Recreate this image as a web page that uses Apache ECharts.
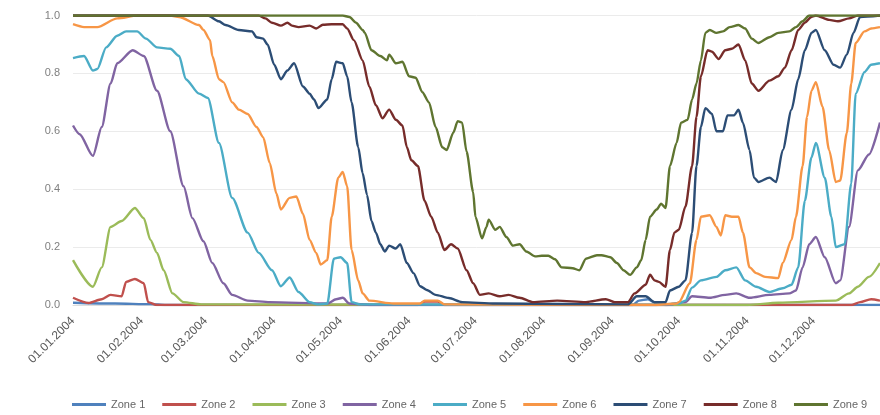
<!DOCTYPE html>
<html>
<head>
<meta charset="utf-8">
<script src="https://cdn.jsdelivr.net/npm/echarts@6/dist/echarts.min.js"></script>
<style>
  html, body { margin: 0; padding: 0; background: #ffffff; }
  #chart { width: 880px; height: 415px; }
</style>
</head>
<body>
<div id="chart"></div>
<script>
// Daily share per zone through 2004, sampled as [MM-DD, value]
const zone1 = [['01-01',0.008],['01-20',0.005],['02-05',0.003],['02-12',0],['09-10',0],['09-13',0.015],['09-17',0.02],['09-21',0.005],['09-25',0],['12-31',0]];
const zone2 = [['01-01',0.025],['01-08',0.007],['01-14',0.02],['01-18',0.035],['01-23',0.03],['01-25',0.08],['01-29',0.09],['02-02',0.075],['02-04',0.01],['02-08',0],
  ['06-05',0],['06-08',0.012],['06-14',0.012],['06-17',0],['12-18',0],['12-22',0.01],['12-27',0.02],['12-31',0.015]];
const zone3 = [['01-01',0.155],['01-10',0.063],['01-14',0.13],['01-18',0.27],['01-23',0.29],['01-29',0.335],['02-02',0.30],['02-05',0.225],['02-08',0.18],['02-11',0.12],['02-15',0.04],['02-20',0.01],['02-28',0.002],
  ['11-01',0],['11-15',0.008],['12-11',0.015],['12-17',0.04],['12-21',0.063],['12-26',0.097],['12-31',0.145]];
const zone4 = [['01-01',0.62],['01-04',0.59],['01-10',0.515],['01-14',0.615],['01-18',0.765],['01-21',0.835],['01-28',0.88],['02-02',0.86],['02-08',0.74],['02-14',0.6],['02-20',0.41],['02-24',0.30],['02-29',0.22],['03-04',0.145],['03-09',0.075],['03-13',0.035],['03-20',0.015],['03-30',0.01],
  ['04-25',0.005],['04-29',0.02],['05-02',0.025],['05-05',0.005],['05-15',0],['09-25',0],['10-04',0.01],['10-07',0.03],['10-15',0.025],['10-22',0.035],['10-27',0.04],['11-02',0.025],['11-11',0.035],['11-20',0.04],['11-23',0.05],['11-26',0.13],['11-29',0.21],['12-02',0.235],['12-06',0.165],['12-11',0.075],['12-13',0.085],['12-17',0.27],['12-21',0.465],['12-26',0.52],['12-31',0.63]];
const zone5 = [['01-01',0.853],['01-06',0.86],['01-10',0.81],['01-12',0.815],['01-16',0.89],['01-21',0.93],['01-25',0.945],['01-30',0.945],['02-03',0.92],['02-08',0.89],['02-14',0.885],['02-18',0.86],['02-21',0.78],['02-27',0.73],['03-02',0.715],['03-07',0.56],['03-13',0.37],['03-20',0.25],['03-25',0.18],['03-31',0.12],['04-04',0.065],['04-08',0.095],['04-12',0.045],['04-17',0.01],['04-21',0.002],['04-25',0.005],['04-28',0.16],['05-01',0.165],['05-04',0.145],['05-06',0.01],['05-10',0.002],
  ['09-20',0],['10-01',0.005],['10-04',0.015],['10-07',0.06],['10-11',0.085],['10-18',0.097],['10-22',0.12],['10-27',0.13],['10-31',0.085],['11-05',0.063],['11-11',0.045],['11-17',0.058],['11-21',0.07],['11-24',0.13],['11-27',0.36],['11-30',0.51],['12-02',0.56],['12-06',0.44],['12-09',0.305],['12-11',0.20],['12-15',0.21],['12-18',0.42],['12-20',0.73],['12-24',0.805],['12-27',0.83],['12-31',0.835]];
const zone6 = [['01-01',0.97],['01-06',0.96],['01-12',0.96],['01-21',0.99],['01-30',1.0],['02-14',1.0],['02-18',0.995],['02-27',0.967],['02-29',0.95],['03-03',0.915],['03-04',0.86],['03-07',0.78],['03-09',0.77],['03-13',0.70],['03-16',0.675],['03-20',0.66],['03-24',0.615],['03-27',0.58],['03-30',0.49],['04-02',0.385],['04-04',0.33],['04-08',0.37],['04-11',0.375],['04-14',0.315],['04-17',0.225],['04-20',0.18],['04-22',0.14],['04-25',0.155],['04-27',0.305],['04-30',0.44],['05-02',0.46],['05-04',0.41],['05-06',0.19],['05-09',0.085],['05-11',0.04],['05-14',0.015],['05-25',0.005],['06-06',0.005],['06-08',0.015],['06-14',0.015],['06-17',0.002],
  ['09-20',0],['09-30',0.005],['10-01',0.01],['10-06',0.075],['10-09',0.225],['10-11',0.305],['10-15',0.31],['10-18',0.27],['10-20',0.24],['10-22',0.31],['10-25',0.305],['10-28',0.305],['10-30',0.25],['11-02',0.13],['11-05',0.11],['11-09',0.097],['11-15',0.093],['11-17',0.145],['11-21',0.225],['11-23',0.305],['11-26',0.48],['11-28',0.65],['11-30',0.74],['12-02',0.77],['12-05',0.685],['12-08',0.535],['12-11',0.425],['12-13',0.43],['12-16',0.595],['12-18',0.765],['12-20',0.905],['12-24',0.945],['12-27',0.955],['12-31',0.96]];
const zone7 = [['01-01',1.0],['03-02',1.0],['03-07',0.98],['03-10',0.967],['03-16',0.95],['03-22',0.945],['03-24',0.925],['03-27',0.92],['03-29',0.9],['04-01',0.83],['04-04',0.78],['04-07',0.81],['04-10',0.835],['04-14',0.755],['04-17',0.73],['04-19',0.71],['04-21',0.68],['04-25',0.71],['04-27',0.78],['04-29',0.84],['05-02',0.835],['05-04',0.79],['05-06',0.7],['05-09',0.545],['05-11',0.455],['05-13',0.38],['05-15',0.29],['05-17',0.25],['05-19',0.21],['05-21',0.185],['05-23',0.205],['05-26',0.195],['05-28',0.21],['05-31',0.145],['06-03',0.11],['06-06',0.065],['06-09',0.052],['06-13',0.035],['06-19',0.024],['06-25',0.01],['07-10',0.005],
  ['09-08',0.002],['09-12',0.03],['09-16',0.03],['09-20',0.01],['09-25',0.01],['09-27',0.05],['10-01',0.063],['10-04',0.085],['10-07',0.25],['10-09',0.48],['10-11',0.615],['10-13',0.68],['10-16',0.66],['10-18',0.60],['10-21',0.60],['10-23',0.655],['10-26',0.655],['10-28',0.675],['10-30',0.63],['11-02',0.535],['11-04',0.44],['11-06',0.425],['11-11',0.44],['11-14',0.425],['11-17',0.535],['11-21',0.675],['11-24',0.78],['11-27',0.88],['11-30',0.94],['12-02',0.95],['12-06',0.88],['12-10',0.83],['12-13',0.82],['12-16',0.865],['12-19',0.94],['12-22',0.995],['12-31',1.0]];
const zone8 = [['01-01',1.0],['03-25',1.0],['03-28',0.99],['03-31',0.975],['04-04',0.965],['04-07',0.975],['04-09',0.965],['04-12',0.96],['04-17',0.965],['04-20',0.955],['04-23',0.968],['04-27',0.97],['05-02',0.97],['05-04',0.955],['05-07',0.915],['05-11',0.845],['05-14',0.755],['05-17',0.69],['05-20',0.645],['05-23',0.675],['05-26',0.64],['05-29',0.62],['05-31',0.545],['06-02',0.50],['06-05',0.48],['06-08',0.36],['06-11',0.305],['06-14',0.25],['06-17',0.19],['06-20',0.21],['06-23',0.195],['06-27',0.12],['06-30',0.075],['07-03',0.035],['07-07',0.04],['07-12',0.03],['07-16',0.035],['07-21',0.025],['07-27',0.01],['08-07',0.015],['08-20',0.01],['08-29',0.02],['09-02',0.01],['09-08',0.01],['09-11',0.04],['09-16',0.07],['09-18',0.105],['09-20',0.085],['09-22',0.08],['09-25',0.063],['09-27',0.19],['09-29',0.25],['10-01',0.26],['10-04',0.34],['10-07',0.48],['10-09',0.65],['10-11',0.79],['10-14',0.88],['10-16',0.875],['10-19',0.85],['10-22',0.88],['10-25',0.885],['10-28',0.90],['10-31',0.845],['11-03',0.765],['11-06',0.74],['11-11',0.775],['11-15',0.79],['11-18',0.82],['11-21',0.88],['11-24',0.95],['11-27',0.975],['11-30',0.995],['12-02',1.0],['12-08',0.985],['12-12',0.98],['12-17',0.99],['12-21',1.0],['12-31',1.0]];
const zone9 = [['01-01',1.0],['05-02',1.0],['05-05',0.995],['05-08',0.975],['05-11',0.95],['05-12',0.94],['05-15',0.88],['05-19',0.86],['05-22',0.845],['05-23',0.865],['05-26',0.835],['05-29',0.84],['06-01',0.79],['06-04',0.785],['06-07',0.735],['06-10',0.7],['06-13',0.615],['06-16',0.545],['06-18',0.535],['06-21',0.595],['06-23',0.635],['06-25',0.63],['06-27',0.53],['06-30',0.39],['07-01',0.305],['07-04',0.23],['07-06',0.27],['07-07',0.295],['07-10',0.26],['07-12',0.27],['07-15',0.235],['07-18',0.205],['07-21',0.21],['07-24',0.185],['07-28',0.168],['07-31',0.17],['08-03',0.17],['08-06',0.158],['08-09',0.13],['08-14',0.127],['08-17',0.12],['08-20',0.16],['08-25',0.172],['08-27',0.172],['08-31',0.165],['09-03',0.145],['09-06',0.12],['09-09',0.104],['09-12',0.13],['09-14',0.155],['09-16',0.225],['09-18',0.305],['09-21',0.33],['09-23',0.35],['09-25',0.335],['09-27',0.48],['09-30',0.56],['10-02',0.63],['10-05',0.64],['10-07',0.71],['10-09',0.765],['10-11',0.845],['10-13',0.94],['10-15',0.95],['10-18',0.94],['10-21',0.945],['10-24',0.96],['10-28',0.967],['10-31',0.955],['11-03',0.92],['11-06',0.905],['11-11',0.925],['11-15',0.94],['11-20',0.945],['11-23',0.96],['11-26',0.98],['11-29',1.0],['12-31',1.0]];

const zoneNames = ['Zone 1','Zone 2','Zone 3','Zone 4','Zone 5','Zone 6','Zone 7','Zone 8','Zone 9'];
const zoneColors = ['#4F81BD','#C0504D','#9BBB59','#8064A2','#4BACC6','#F79646','#2C4D75','#772C2A','#5F7530'];
const monthTicks = ['01.01.2004','01.02.2004','01.03.2004','01.04.2004','01.05.2004','01.06.2004','01.07.2004','01.08.2004','01.09.2004','01.10.2004','01.11.2004','01.12.2004'];
const yTicks = [0, 0.2, 0.4, 0.6, 0.8, 1.0];

// Every day of 2004 as a DD.MM.YYYY category
const days = [];
for (let d = new Date(2004, 0, 1); d.getFullYear() === 2004; d.setDate(d.getDate() + 1)) {
  const dd = String(d.getDate()).padStart(2, '0');
  const mm = String(d.getMonth() + 1).padStart(2, '0');
  days.push(dd + '.' + mm + '.2004');
}
const toDay = s => s.slice(3, 5) + '.' + s.slice(0, 2) + '.2004';

const zones = [zone1, zone2, zone3, zone4, zone5, zone6, zone7, zone8, zone9];
const font = 'Liberation Sans, Arial, sans-serif';
const chart = echarts.init(document.getElementById('chart'), null, { renderer: 'canvas' });

chart.setOption({
  animation: false,
  color: zoneColors,
  grid: { left: 73, right: 0, top: 15.5, bottom: 110 },
  legend: {
    data: zoneNames,
    left: 67, top: 394,
    icon: 'rect', itemWidth: 34, itemHeight: 3, itemGap: 17,
    textStyle: { color: '#666666', fontSize: 11, fontFamily: font }
  },
  xAxis: {
    type: 'category',
    data: days,
    boundaryGap: false,
    axisLine: { show: true, lineStyle: { color: '#dddddd' } },
    axisTick: { show: false },
    splitLine: { show: false },
    axisLabel: {
      interval: (i, v) => monthTicks.includes(v),
      rotate: 45,
      margin: 14,
      color: '#595959',
      fontSize: 12,
      fontFamily: font
    }
  },
  yAxis: {
    type: 'value',
    min: yTicks[0], max: yTicks[yTicks.length - 1], interval: 0.2,
    axisLine: { show: false },
    axisTick: { show: false },
    splitLine: { lineStyle: { color: '#ebebeb', width: 1 } },
    axisLabel: {
      margin: 13,
      color: '#7f7f7f',
      fontSize: 11,
      fontFamily: font,
      formatter: v => v.toFixed(1)
    }
  },
  series: zones.map((z, i) => ({
    name: zoneNames[i],
    type: 'line',
    data: z.map(p => [toDay(p[0]), p[1]]),
    showSymbol: false,
    smooth: 0.25,
    smoothMonotone: 'x',
    lineStyle: { width: 2.4, color: zoneColors[i] },
    emphasis: { disabled: true }
  }))
});
</script>
</body>
</html>
